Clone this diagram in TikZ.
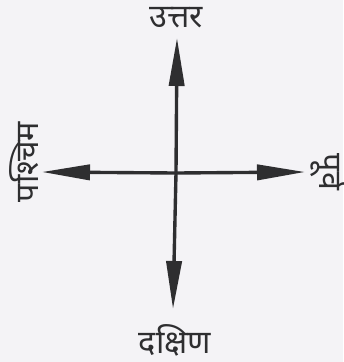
\documentclass[tikz,border=0pt]{standalone}
\usepackage{fontspec}
\newfontfamily\devfont[Script=Devanagari]{Noto Sans}
\usepackage{xcolor}
\usetikzlibrary{arrows.meta}
\definecolor{paper}{HTML}{F4F3F6}
\definecolor{ink}{HTML}{2E2E30}

\begin{document}
\begin{tikzpicture}[
    x=0.025cm, y=-0.025cm,
    font=\devfont\fontsize{23}{26}\selectfont,
    arr/.style={-{Triangle[length=1.2cm, width=0.38cm]}, line width=2.4pt, ink},
    dir/.style={inner sep=0pt, text=ink},
]
\fill[paper] (0,0) rectangle (343,362);
\useasboundingbox (0,0) rectangle (343,362);
\coordinate (o) at (176,173);
\coordinate (n) at (177,38);
\coordinate (s) at (173,309);
\coordinate (w) at (42,172);
\coordinate (e) at (305,172);
%% Labels
\node[dir] (nl) at (176,18)  {उत्तर};
\node[dir] (sl) at (175,340) {दक्षिण};
\node[dir, rotate=90]  (wl) at (24,162)  {पश्चिम};
\node[dir, rotate=-90] (el) at (330,172) {पूर्व};
%% Arrows
\draw[arr] (o) -- (n);
\draw[arr] (o) -- (s);
\draw[arr] (o) -- (w);
\draw[arr] (o) -- (e);
\end{tikzpicture}
\end{document}
